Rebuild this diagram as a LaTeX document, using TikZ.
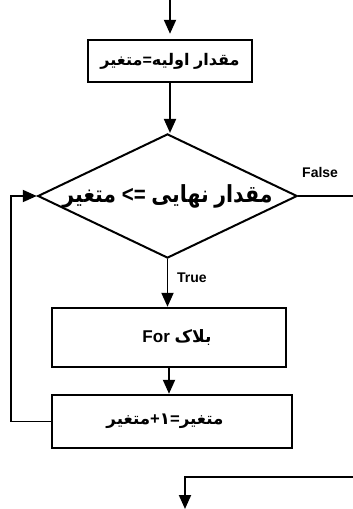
\documentclass[tikz,border=0pt]{standalone}
\usepackage{fontspec}
\usepackage{graphicx}
\usetikzlibrary{shapes.geometric,arrows.meta}
\setmainfont{Liberation Sans}
\newfontfamily\arabicfont[Script=Arabic]{DejaVu Sans}
\TeXXeTstate=1
% one Arabic word, shaped on its own
\newcommand{\fa}[1]{\mbox{\arabicfont\bfseries #1}}
% one Latin symbol or word inside right-to-left text
\newcommand{\la}[1]{\mbox{\bfseries #1}}

\begin{document}
\begin{tikzpicture}[x=1pt,y=-1pt,
  stepbox/.style={draw, line width=2.4pt, inner sep=0pt},
  decision/.style={draw, shape=diamond, line width=2pt, inner sep=0pt, shape aspect=2.09},
  wire/.style={line width=1.9pt},
  flow/.style={wire, -{Triangle[width=12pt,length=14pt]}},
  lbl/.style={font=\bfseries\fontsize{14}{16}\selectfont, inner sep=0pt}]
  \useasboundingbox (0,0) rectangle (353,509);

  % process boxes and the loop test
  \node[stepbox, minimum width=164pt, minimum height=42pt] (b1) at (170,61)
    {\resizebox{139pt}{!}{\beginR\fa{مقدار}\ \fa{اولیه}\la{=}\fa{متغیر}\endR}};
  \node[decision, minimum width=255pt, minimum height=122pt] (d) at (167.5,196)
    {\scalebox{1}[1.15]{\resizebox{210pt}{!}{\beginR\fa{مقدار}\ \fa{نهایی}\ \la{<=}\ \fa{متغیر}\endR}}};
  \node[stepbox, minimum width=234pt, minimum height=59pt] (b2) at (169,337.5)
    {\hspace*{16pt}\resizebox{69pt}{!}{\beginR\fa{بلاک}\ \la{For}\endR}};
  \node[stepbox, minimum width=240pt, minimum height=53pt] (b3) at (172,421.5)
    {\hspace*{-14pt}\resizebox{117pt}{!}{\beginR\fa{متغیر}\la{=}\fa{۱}\la{+}\fa{متغیر}\endR}};

  % free ends of the incoming and outgoing connectors
  \coordinate (entry) at (170,0);
  \coordinate (fout) at (353,196);
  \coordinate (fin) at (353,477);
  \coordinate (exit) at (185,509);

  % connectors
  \draw[flow, shorten >=5pt] (entry) -- (b1.north);
  \draw[flow] (b1.south) -- (b1.south |- d.north);
  \draw[flow] (d.south) -- (d.south |- b2.north);
  \draw[flow] (b2.south) -- (b2.south |- b3.north);
  \draw[flow] (b3.west) -- ++(-40,0) |- (d.west);
  \draw[wire] (d.east) -- (fout);
  \draw[flow] (fin) -| (exit);

  % branch labels
  \node[lbl, anchor=south west] (tf) at (302,178) {False};
  \node[lbl, anchor=west] (tt) at (177,278) {True};
\end{tikzpicture}
\end{document}
